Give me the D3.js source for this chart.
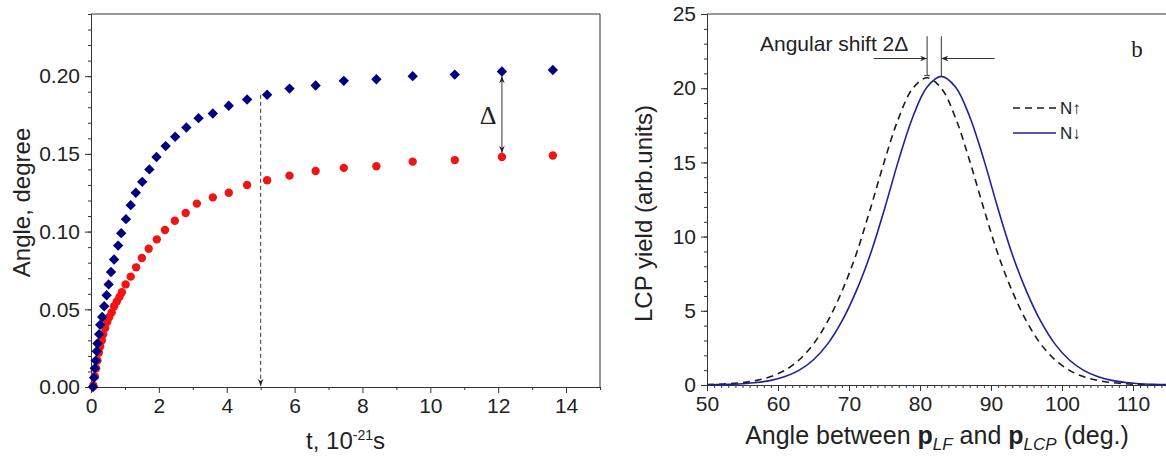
<!DOCTYPE html>
<html>
<head>
<meta charset="utf-8">
<script src="https://cdn.jsdelivr.net/npm/d3@7"></script>
<style>
  body { margin: 0; background: #fff; }
  text { font-family: 'Liberation Sans', Arial, sans-serif; fill: #222; }
</style>
</head>
<body>
<script>
// ---- data : left panel (angle vs time) ----
const tTicks = [0, 2, 4, 6, 8, 10, 12, 14]
const angleTicks = [0, 0.05, 0.10, 0.15, 0.20]
const blueT = [0.06, 0.09, 0.11, 0.14, 0.17, 0.19, 0.24, 0.27, 0.33, 0.39, 0.46, 0.52, 0.59, 0.68, 0.80, 0.89,
  1.03, 1.17, 1.32, 1.51, 1.72, 1.93, 2.20, 2.48, 2.81, 3.17, 3.59, 4.06, 4.60, 5.19, 5.85, 6.62, 7.45,
  8.41, 9.48, 10.72, 12.11, 13.61]
const blueAngle = [0.000, 0.006, 0.012, 0.017, 0.023, 0.028, 0.034, 0.040, 0.045, 0.052, 0.059, 0.066, 0.074,
  0.082, 0.091, 0.099, 0.108, 0.117, 0.125, 0.132, 0.140, 0.148, 0.155, 0.161, 0.167, 0.173, 0.176, 0.181,
  0.185, 0.188, 0.192, 0.194, 0.197, 0.198, 0.200, 0.201, 0.203, 0.204]
const redT = [0.07, 0.11, 0.15, 0.19, 0.23, 0.27, 0.32, 0.36, 0.42, 0.48, 0.54, 0.61, 0.68, 0.76, 0.84, 0.91,
  1.02, 1.17, 1.33, 1.50, 1.70, 1.94, 2.18, 2.47, 2.79, 3.12, 3.59, 4.06, 4.60, 5.19, 5.85, 6.62, 7.45,
  8.41, 9.48, 10.72, 12.11, 13.61]
const redAngle = [0.001, 0.007, 0.012, 0.017, 0.022, 0.026, 0.030, 0.034, 0.038, 0.042, 0.045, 0.048, 0.052,
  0.055, 0.058, 0.061, 0.066, 0.071, 0.077, 0.083, 0.089, 0.095, 0.101, 0.107, 0.112, 0.118, 0.122, 0.125,
  0.130, 0.133, 0.136, 0.139, 0.141, 0.142, 0.145, 0.146, 0.148, 0.149]

// ---- data : right panel (LCP yield vs angle) ----
const degTicks = [50, 60, 70, 80, 90, 100, 110]
const yieldTicks = [0, 5, 10, 15, 20, 25]
const lcpAngle = [50, 51, 53, 55, 57, 59, 61, 63, 65, 67, 69, 71, 73, 75, 77, 79, 81, 83, 85, 87, 89, 91,
  93, 95, 97, 99, 101, 103, 105, 107, 109, 111, 113, 115]
const yieldUp = [0.03, 0.042, 0.085, 0.165, 0.31, 0.57, 1.00, 1.70, 2.77, 4.30, 6.31, 8.80, 11.86, 15.1,
  18.0, 20.0, 20.7, 20.0, 18.0, 15.1, 11.86, 8.80, 6.31, 4.30, 2.77, 1.70, 1.00, 0.57, 0.31, 0.165,
  0.085, 0.042, 0.020, 0.010]
const yieldDown = [0.013, 0.020, 0.042, 0.085, 0.165, 0.31, 0.57, 1.00, 1.70, 2.77, 4.30, 6.31, 8.80, 11.86,
  15.17, 18.08, 20.08, 20.8, 20.08, 18.08, 15.17, 11.86, 8.80, 6.31, 4.30, 2.77, 1.70, 1.00, 0.57, 0.31,
  0.165, 0.085, 0.042, 0.020]

const svg = d3.select('body').append('svg')
  .attr('width', 1166)
  .attr('height', 459)
  .style('background-color', '#fff')

const defs = svg.append('defs')
defs.append('marker')
  .attr('id', 'arr')
  .attr('viewBox', '0 0 10 10')
  .attr('refX', 10).attr('refY', 5)
  .attr('markerWidth', 7).attr('markerHeight', 7)
  .attr('orient', 'auto-start-reverse')
  .append('path').attr('d', 'M0,1 L10,5 L0,9 L3,5 z').attr('fill', '#222')

const axisColor = '#333'
function styleAxis(g, size) {
  g.selectAll('path').attr('stroke', axisColor)
  g.selectAll('line').attr('stroke', axisColor)
  g.selectAll('text').style('font-family', "'Liberation Sans', Arial, sans-serif")
    .style('font-size', size + 'px').attr('fill', '#222')
}

// ================= left panel =================
const L = {left: 91, top: 14, width: 509, height: 373}
const left = svg.append('g').attr('transform', `translate(${L.left}, ${L.top})`)

const x1 = d3.scaleLinear().domain([0, 15]).range([0, L.width])
const y1 = d3.scaleLinear().domain([0, 0.24]).range([L.height, 0])

// minor ticks
left.append('g').attr('transform', `translate(0, ${L.height})`)
  .call(d3.axisBottom(x1).tickValues(d3.range(1, 16, 2)).tickSize(3).tickFormat(''))
  .call(g => styleAxis(g, 20))
left.append('g')
  .call(d3.axisLeft(y1).tickValues(d3.range(0, 25).map(d => d / 100)).tickSize(3).tickFormat(''))
  .call(g => styleAxis(g, 20))
// major ticks
left.append('g').attr('transform', `translate(0, ${L.height})`)
  .call(d3.axisBottom(x1).tickValues(tTicks).tickSize(6).tickPadding(5).tickSizeOuter(0))
  .call(g => styleAxis(g, 21))
left.append('g')
  .call(d3.axisLeft(y1).tickValues(angleTicks).tickSize(6).tickPadding(5).tickSizeOuter(0).tickFormat(d3.format('.2f')))
  .call(g => styleAxis(g, 21))
// frame
left.append('path')
  .attr('d', `M0,0 H${L.width} V${L.height}`)
  .attr('fill', 'none').attr('stroke', axisColor)

// dashed arrow at t = 5
left.append('line')
  .attr('x1', x1(5)).attr('x2', x1(5))
  .attr('y1', y1(0.188)).attr('y2', y1(0) - 1)
  .attr('stroke', '#333').attr('stroke-dasharray', '4,3')
  .attr('marker-end', 'url(#arr)')

// delta arrow
left.append('line')
  .attr('x1', x1(12.11)).attr('x2', x1(12.11))
  .attr('y1', y1(0.2032) + 5).attr('y2', y1(0.1474) - 5)
  .attr('stroke', '#333')
  .attr('marker-start', 'url(#arr)').attr('marker-end', 'url(#arr)')
left.append('text')
  .attr('x', x1(11.7)).attr('y', y1(0.175) + 9)
  .attr('text-anchor', 'middle')
  .style('font-family', "'Liberation Serif', 'Times New Roman', serif")
  .style('font-size', '26px')
  .text('Δ')

// red circles
left.selectAll('circle.red')
  .data(redT.map((t, i) => ({t, v: redAngle[i]})))
  .enter().append('circle')
  .attr('class', 'red')
  .attr('cx', d => x1(d.t)).attr('cy', d => y1(d.v))
  .attr('r', 4.2)
  .attr('fill', '#f01414')

// blue diamonds
const diamond = d3.symbol().type(d3.symbolSquare).size(54)
left.selectAll('path.blue')
  .data(blueT.map((t, i) => ({t, v: blueAngle[i]})))
  .enter().append('path')
  .attr('class', 'blue')
  .attr('d', diamond)
  .attr('transform', d => `translate(${x1(d.t)}, ${y1(d.v)}) rotate(45)`)
  .attr('fill', '#000080')

// axis titles
left.append('text')
  .attr('transform', `translate(${30 - L.left}, ${L.height / 2 + 2}) rotate(-90)`)
  .attr('text-anchor', 'middle')
  .style('font-size', '24px')
  .text('Angle, degree')
const tLabel = left.append('text')
  .attr('x', x1(7.5)).attr('y', L.height + 62)
  .attr('text-anchor', 'middle')
  .style('font-size', '24px')
tLabel.append('tspan').text('t, 10')
tLabel.append('tspan').attr('dy', -9).style('font-size', '14px').text('-21')
tLabel.append('tspan').attr('dy', 9).text('s')

// ================= right panel =================
const R = {left: 707, top: 14, width: 461.5, height: 371}
const right = svg.append('g').attr('transform', `translate(${R.left}, ${R.top})`)

const x2 = d3.scaleLinear().domain([50, 115]).range([0, R.width])
const y2 = d3.scaleLinear().domain([0, 25]).range([R.height, 0])

right.append('g').attr('transform', `translate(0, ${R.height})`)
  .call(d3.axisBottom(x2).tickValues(d3.range(50, 116)).tickSize(3).tickFormat(''))
  .call(g => styleAxis(g, 20))
right.append('g')
  .call(d3.axisLeft(y2).tickValues(d3.range(0, 26)).tickSize(3).tickFormat(''))
  .call(g => styleAxis(g, 20))
right.append('g').attr('transform', `translate(0, ${R.height})`)
  .call(d3.axisBottom(x2).tickValues(degTicks).tickSize(6).tickPadding(5).tickSizeOuter(0))
  .call(g => styleAxis(g, 21))
right.append('g')
  .call(d3.axisLeft(y2).tickValues(yieldTicks).tickSize(6).tickPadding(5).tickSizeOuter(0))
  .call(g => styleAxis(g, 21))
right.append('path')
  .attr('d', `M0,0 H${R.width} V${R.height}`)
  .attr('fill', 'none').attr('stroke', axisColor)

const line = (ys) => d3.line()
  .x((d, i) => x2(lcpAngle[i]))
  .y(d => y2(d))
  .curve(d3.curveCatmullRom.alpha(0.5))(ys)

right.append('path')
  .attr('d', line(yieldUp))
  .attr('fill', 'none').attr('stroke', '#1a1a1a')
  .attr('stroke-width', 1.6).attr('stroke-dasharray', '7,5')
right.append('path')
  .attr('d', line(yieldDown))
  .attr('fill', 'none').attr('stroke', '#1f1f9a')
  .attr('stroke-width', 1.6)

// angular shift annotation
right.append('line')
  .attr('x1', x2(81)).attr('x2', x2(81)).attr('y1', y2(23.5)).attr('y2', y2(20.85))
  .attr('stroke', '#333')
right.append('line')
  .attr('x1', x2(80.6)).attr('x2', x2(81.4)).attr('y1', y2(20.85)).attr('y2', y2(20.85))
  .attr('stroke', '#333')
right.append('line')
  .attr('x1', x2(83)).attr('x2', x2(83)).attr('y1', y2(23.5)).attr('y2', y2(20.8))
  .attr('stroke', '#333')
right.append('line')
  .attr('x1', x2(73.5)).attr('x2', x2(81)).attr('y1', y2(22)).attr('y2', y2(22))
  .attr('stroke', '#333').attr('marker-end', 'url(#arr)')
right.append('line')
  .attr('x1', x2(90.5)).attr('x2', x2(83)).attr('y1', y2(22)).attr('y2', y2(22))
  .attr('stroke', '#333').attr('marker-end', 'url(#arr)')
right.append('text')
  .attr('x', 760 - R.left).attr('y', 51 - R.top)
  .style('font-size', '21px')
  .text('Angular shift 2Δ')
right.append('text')
  .attr('x', 1137 - R.left).attr('y', 57 - R.top)
  .attr('text-anchor', 'middle')
  .style('font-family', "'Liberation Serif', 'Times New Roman', serif")
  .style('font-size', '23px')
  .text('b')

// legend
const legend = right.append('g').attr('transform', `translate(${1013 - R.left}, ${108 - R.top})`)
legend.append('line').attr('x1', 0).attr('x2', 43).attr('y1', 0).attr('y2', 0)
  .attr('stroke', '#1a1a1a').attr('stroke-width', 1.6).attr('stroke-dasharray', '7,5')
legend.append('text').attr('x', 47).attr('y', 6).style('font-size', '17px').text('N↑')
legend.append('line').attr('x1', 0).attr('x2', 43).attr('y1', 25).attr('y2', 25)
  .attr('stroke', '#1f1f9a').attr('stroke-width', 1.6)
legend.append('text').attr('x', 47).attr('y', 31).style('font-size', '17px').text('N↓')

// axis titles
right.append('text')
  .attr('transform', `translate(${652 - R.left}, ${R.height / 2 + 14}) rotate(-90)`)
  .attr('text-anchor', 'middle')
  .style('font-size', '24px')
  .text('LCP yield (arb.units)')
const aLabel = right.append('text')
  .attr('x', 937 - R.left).attr('y', R.height + 59)
  .attr('text-anchor', 'middle')
  .style('font-size', '25px')
aLabel.append('tspan').text('Angle between ')
aLabel.append('tspan').style('font-weight', 'bold').text('p')
aLabel.append('tspan').attr('dy', 6).style('font-size', '17px').style('font-style', 'italic').text('LF')
aLabel.append('tspan').attr('dy', -6).text(' and ')
aLabel.append('tspan').style('font-weight', 'bold').text('p')
aLabel.append('tspan').attr('dy', 6).style('font-size', '17px').style('font-style', 'italic').text('LCP')
aLabel.append('tspan').attr('dy', -6).text(' (deg.)')
</script>
</body>
</html>
